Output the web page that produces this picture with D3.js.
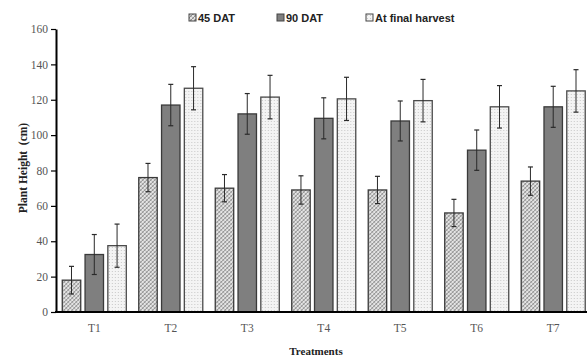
<!DOCTYPE html>
<html>
<head>
<meta charset="utf-8">
<script src="https://cdn.jsdelivr.net/npm/d3@7"></script>
<style>
  body { margin: 0; background: #fff; }
  svg { display: block; }
</style>
</head>
<body>
<div id="chart"></div>
<script>
'use strict';

// treatments and series
const categories = ['T1', 'T2', 'T3', 'T4', 'T5', 'T6', 'T7'];
const seriesNames = ['45 DAT', '90 DAT', 'At final harvest'];

// plant height (cm)
const dat45 = [18, 76, 70, 69, 69, 56, 74];
const dat90 = [32.5, 117, 112, 109.5, 108, 91.5, 116];
const finalHarvest = [37.5, 126.5, 121.5, 120.5, 119.5, 116, 125];

// error bar half-lengths
const err45 = [7.8, 8, 7.7, 8, 7.7, 7.7, 8];
const err90 = [11.3, 11.7, 11.5, 11.6, 11.3, 11.4, 11.6];
const errFinal = [12.2, 12.2, 12.3, 12.2, 12, 12, 12];

const yTicks = [0, 20, 40, 60, 80, 100, 120, 140, 160];

const width = 587, height = 358;
const margin = {left: 56, top: 29, bottom: 46};
const plotRight = 591.5;

const svg = d3.select('#chart').append('svg')
  .attr('width', width)
  .attr('height', height);

// fill patterns
const defs = svg.append('defs');

// 45 DAT: fine crosshatch
const p45 = defs.append('pattern')
  .attr('id', 'pat45')
  .attr('patternUnits', 'userSpaceOnUse')
  .attr('width', 4).attr('height', 4);
p45.append('rect').attr('width', 4).attr('height', 4).attr('fill', '#e4e4e4');
p45.append('path').attr('d', 'M0,4 L4,0 M-1,1 L1,-1 M3,5 L5,3')
  .attr('stroke', '#858585').attr('stroke-width', 0.9);
p45.append('path').attr('d', 'M0,0 L4,4 M-1,3 L1,5 M3,-1 L5,1')
  .attr('stroke', '#a0a0a0').attr('stroke-width', 0.7);

const p90 = defs.append('pattern')
  .attr('id', 'pat90')
  .attr('patternUnits', 'userSpaceOnUse')
  .attr('width', 4).attr('height', 4);
p90.append('rect').attr('width', 4).attr('height', 4).attr('fill', '#7f7f7f');

// final harvest: light dots
const pFin = defs.append('pattern')
  .attr('id', 'patFin')
  .attr('patternUnits', 'userSpaceOnUse')
  .attr('width', 3).attr('height', 3);
pFin.append('rect').attr('width', 3).attr('height', 3).attr('fill', '#f4f4f4');
pFin.append('rect').attr('x', 1).attr('y', 1).attr('width', 1).attr('height', 1).attr('fill', '#c8c8c8');

const fills = ['url(#pat45)', 'url(#pat90)', 'url(#patFin)'];
const strokes = ['#3a3a3a', '#3a3a3a', '#4a4a4a'];

// scales
const y = d3.scaleLinear()
  .domain([0, 160])
  .range([height - margin.bottom, margin.top]);

const x0 = d3.scaleBand()
  .domain(categories)
  .range([margin.left, plotRight])
  .paddingInner(0.163)
  .paddingOuter(0.082);

const x1 = d3.scaleBand()
  .domain(seriesNames)
  .range([0, x0.bandwidth()])
  .paddingInner(0.19);

const values = [dat45, dat90, finalHarvest];
const errors = [err45, err90, errFinal];

const rows = [];
categories.forEach((c, i) => {
  seriesNames.forEach((s, j) => {
    rows.push({cat: c, series: s, idx: j, value: values[j][i], err: errors[j][i]});
  });
});

// bars
const groups = svg.append('g').attr('class', 'bars')
  .selectAll('g')
  .data(rows)
  .enter()
  .append('g')
  .attr('transform', d => `translate(${x0(d.cat) + x1(d.series)},0)`);

groups.append('rect')
  .attr('x', 0)
  .attr('y', d => y(d.value))
  .attr('width', x1.bandwidth())
  .attr('height', d => y(0) - y(d.value))
  .attr('fill', d => fills[d.idx])
  .attr('stroke', d => strokes[d.idx])
  .attr('stroke-width', 1.3);

// error bars
const cx = x1.bandwidth() / 2;
groups.append('line')
  .attr('x1', cx).attr('x2', cx)
  .attr('y1', d => y(d.value + d.err))
  .attr('y2', d => y(d.value - d.err))
  .attr('stroke', '#2a2a2a')
  .attr('stroke-width', 1);
groups.append('line')
  .attr('x1', cx - 2.5).attr('x2', cx + 2.5)
  .attr('y1', d => y(d.value + d.err))
  .attr('y2', d => y(d.value + d.err))
  .attr('stroke', '#2a2a2a')
  .attr('stroke-width', 1.2);
groups.append('line')
  .attr('x1', cx - 2.5).attr('x2', cx + 2.5)
  .attr('y1', d => y(d.value - d.err))
  .attr('y2', d => y(d.value - d.err))
  .attr('stroke', '#2a2a2a')
  .attr('stroke-width', 1.2);

// y axis
const yAxis = svg.append('g')
  .attr('transform', `translate(${margin.left},0)`)
  .call(d3.axisLeft(y).tickValues(yTicks).tickSize(5).tickSizeOuter(0).tickPadding(3));
yAxis.select('.domain').attr('stroke', '#000').attr('stroke-width', 2);
yAxis.selectAll('.tick line').attr('stroke', '#000').attr('stroke-width', 1.2);
yAxis.selectAll('.tick text')
  .attr('font-family', '"Liberation Serif", "Times New Roman", serif')
  .attr('font-size', 11.5)
  .attr('fill', '#555');

// x axis
const xAxis = svg.append('g')
  .attr('transform', `translate(0,${y(0)})`)
  .call(d3.axisBottom(x0).tickSize(0).tickSizeOuter(0).tickPadding(12));
xAxis.select('.domain').attr('stroke', '#000').attr('stroke-width', 2)
  .attr('d', `M${margin.left - 1},0H${width}`);
xAxis.selectAll('.tick text')
  .attr('font-family', '"Liberation Serif", "Times New Roman", serif')
  .attr('font-size', 11.5)
  .attr('fill', '#555');

// axis titles
svg.append('text')
  .attr('transform', `translate(27,168) rotate(-90)`)
  .attr('text-anchor', 'middle')
  .attr('font-family', '"Liberation Serif", "Times New Roman", serif')
  .attr('font-weight', 'bold')
  .attr('font-size', 11.5)
  .attr('fill', '#222')
  .style('white-space', 'pre')
  .text('Plant Height  (cm)');

svg.append('text')
  .attr('x', 316)
  .attr('y', 355)
  .attr('text-anchor', 'middle')
  .attr('font-family', '"Liberation Serif", "Times New Roman", serif')
  .attr('font-weight', 'bold')
  .attr('font-size', 11)
  .attr('fill', '#222')
  .text('Treatments');

// legend
const legendX = [189, 277, 366];
const legend = svg.append('g')
  .selectAll('g')
  .data(seriesNames)
  .enter()
  .append('g')
  .attr('transform', (d, i) => `translate(${legendX[i]},14)`);

legend.append('rect')
  .attr('width', 7).attr('height', 7)
  .attr('fill', (d, i) => fills[i])
  .attr('stroke', '#444')
  .attr('stroke-width', 1);

legend.append('text')
  .attr('x', 9)
  .attr('y', 7.5)
  .attr('font-family', '"Liberation Sans", Arial, sans-serif')
  .attr('font-weight', 'bold')
  .attr('font-size', 11)
  .attr('fill', '#222')
  .text(d => d);
</script>
</body>
</html>
